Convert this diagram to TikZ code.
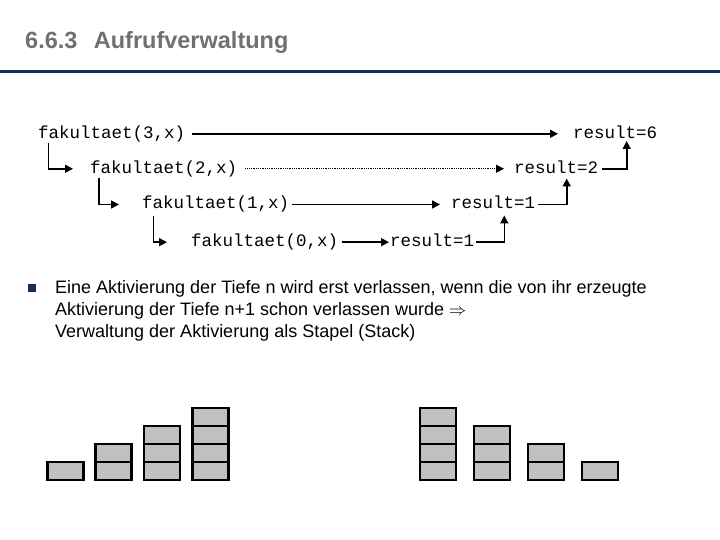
\documentclass[tikz,border=0pt]{standalone}
\usepackage{fontspec}
\setmainfont{Liberation Sans}
\newfontfamily\codefont{Liberation Mono}
\usetikzlibrary{arrows.meta}
\definecolor{titlegray}{RGB}{112,112,112}
\definecolor{navy}{RGB}{20,48,80}
\definecolor{boxgray}{RGB}{192,192,192}
\tikzset{
	call/.style={anchor=base west, inner sep=0pt, font=\codefont\fontsize{17.5}{20}\selectfont},
	arr/.style={line width=1.6pt, -{Triangle[length=8pt,width=8pt]}},
	frame/.style={draw=black, line width=2.6pt, fill=boxgray},
}
\begin{document}
\begin{tikzpicture}[x=1pt, y=-1pt]
	\useasboundingbox (0, 0) rectangle (720, 540);
	% title
	\node[anchor=base west, inner sep=0pt, text=titlegray, font=\bfseries\fontsize{23.5}{26}\selectfont] (title) at (25, 48.3) {6.6.3\hspace{0.7em}Aufrufverwaltung};
	\draw[navy, line width=3pt] (0, 71.7) -- (720, 71.7);
	% calls
	\node[call] (f3) at (38, 138.3) {fakultaet(3,x)};
	\node[call] (f2) at (90, 173.3) {fakultaet(2,x)};
	\node[call] (f1) at (142, 209) {fakultaet(1,x)};
	\node[call] (f0) at (191, 246.7) {fakultaet(0,x)};
	\node[call] (r6) at (573, 138.3) {result=6};
	\node[call] (r2) at (514, 173.3) {result=2};
	\node[call] (r1) at (451, 209) {result=1};
	\node[call] (r0) at (390, 246.7) {result=1};
	% straight
	\draw[arr, shorten <=7pt, shorten >=15pt] (f3) -- (f3 -| r6.west);
	\draw[arr, line width=0.8pt, densely dotted, shorten <=8pt, shorten >=10pt] (f2) -- (f2 -| r2.west);
	\draw[arr, shorten <=3pt, shorten >=11pt] (f1) -- (f1 -| r1.west);
	\draw[arr, shorten <=4pt, shorten >=1pt] (f0) -- (f0 -| r0.west);
	% down
	\coordinate (d3) at (48.3, 143);
	\coordinate (d2) at (99, 178);
	\coordinate (d1) at (153.3, 216);
	\draw[arr] (d3) |- ([xshift=-17pt]f2.west);
	\draw[arr] (d2) |- ([xshift=-23pt]f1.west);
	\draw[arr] (d1) |- ([xshift=-24pt]f0.west);
	% up
	\coordinate (u1) at (504.3, 215.5);
	\coordinate (u2) at (566.7, 178.5);
	\coordinate (u3) at (626.7, 141);
	\draw[arr, shorten <=2pt] (r0.east |- f0) -| (u1);
	\draw[arr, shorten <=3pt] (r1.east |- f1) -| (u2);
	\draw[arr, shorten <=4pt] (r2.east |- f2) -| (u3);
	% text
	\fill[navy] (27.5, 284.2) rectangle (35.5, 292.2);
	\node[anchor=north west, inner sep=0pt, align=left, font=\fontsize{18}{22}\selectfont] (txt) at (55, 280) {Eine Aktivierung der Tiefe n wird erst verlassen, wenn die von ihr erzeugte\\Aktivierung der Tiefe n+1 schon verlassen wurde $\Rightarrow$\\Verwaltung der Aktivierung als Stapel (Stack)};
	% stacks
	\foreach \i/\x in {1/47.3, 2/95.7, 3/144, 4/192.3}
		\foreach \k in {1,...,\i}
			\draw[frame] (\x, {480-18*(\k-1)}) rectangle ++(36, -18);
	\foreach \i/\x in {4/420, 3/474, 2/528, 1/582}
		\foreach \k in {1,...,\i}
			\draw[frame] (\x, {480-18*(\k-1)}) rectangle ++(36, -18);
\end{tikzpicture}
\end{document}
